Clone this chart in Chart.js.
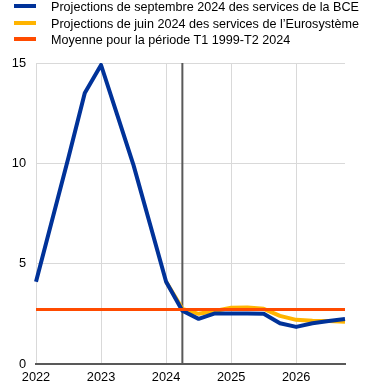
<!DOCTYPE html>
<html>
<head>
<meta charset="utf-8">
<script src="https://cdn.jsdelivr.net/npm/chart.js@4/dist/chart.umd.min.js"></script>
<style>
  html, body { margin: 0; padding: 0; background: #fff; }
  #wrap { position: relative; width: 373px; height: 389px; }
  #c { position: absolute; left: 0; top: 0; }
  #legend { position: absolute; left: 0; top: 0; font-family: "Liberation Sans", Arial, sans-serif; font-size: 12.6px; color: #000; }
  .row { position: absolute; left: 0; white-space: nowrap; height: 16px; }
  .sw { position: absolute; left: 14px; width: 22px; height: 4px; }
  .tx { position: absolute; left: 51px; top: 0; line-height: 14px; }
</style>
</head>
<body>
<div id="wrap">
  <canvas id="c" width="373" height="389"></canvas>
  <div id="legend"></div>
</div>
<script>
// ---- data ----
const quarters = [
  "2022Q1","2022Q2","2022Q3","2022Q4",
  "2023Q1","2023Q2","2023Q3","2023Q4",
  "2024Q1","2024Q2","2024Q3","2024Q4",
  "2025Q1","2025Q2","2025Q3","2025Q4",
  "2026Q1","2026Q2","2026Q3","2026Q4"
];
const seriesNames = [
  "Projections de septembre 2024 des services de la BCE",
  "Projections de juin 2024 des services de l\u2019Eurosyst\u00e8me",
  "Moyenne pour la p\u00e9riode T1 1999-T2 2024"
];
const septProjection = [4.1, 7.2, 10.3, 13.5, 14.9, 12.4, 9.9, 7.0, 4.1, 2.65, 2.25, 2.52, 2.52, 2.52, 2.5, 2.03, 1.85, 2.03, 2.14, 2.24];
const juneProjection = [null, null, null, null, null, null, null, null, 4.1, 2.75, 2.5, 2.64, 2.8, 2.82, 2.75, 2.4, 2.2, 2.15, 2.14, 2.11];
const longTermAverage = [2.72, 2.72, 2.72, 2.72, 2.72, 2.72, 2.72, 2.72, 2.72, 2.72, 2.72, 2.72, 2.72, 2.72, 2.72, 2.72, 2.72, 2.72, 2.72, 2.72];
const cutoffQuarter = "2024Q2";
const yTicks = [0, 5, 10, 15];

const colors = ["#003299", "#ffb400", "#ff4b00"];

// ---- legend (HTML) ----
const legend = document.getElementById('legend');
const rowTops = [0, 16.6, 33.2];
seriesNames.forEach((name, i) => {
  const row = document.createElement('div');
  row.className = 'row';
  row.style.top = rowTops[i] + 'px';
  const sw = document.createElement('div');
  sw.className = 'sw';
  sw.style.background = colors[i];
  sw.style.top = '4px';
  const tx = document.createElement('div');
  tx.className = 'tx';
  tx.textContent = name;
  row.appendChild(sw);
  row.appendChild(tx);
  legend.appendChild(row);
});

// ---- chart ----
const font = { family: "'Liberation Sans', Arial, sans-serif", size: 12.8 };
new Chart(document.getElementById('c'), {
  type: 'line',
  data: {
    labels: quarters,
    datasets: [
      { label: seriesNames[2], data: longTermAverage, borderColor: colors[2], borderWidth: 3, pointRadius: 0, order: 0 },
      { label: seriesNames[0], data: septProjection, borderColor: colors[0], borderWidth: 4, pointRadius: 0, order: 1 },
      { label: seriesNames[1], data: juneProjection, borderColor: colors[1], borderWidth: 4, pointRadius: 0, order: 2, spanGaps: false },
      { label: 'cutoff', data: [{ x: cutoffQuarter, y: yTicks[0] }, { x: cutoffQuarter, y: yTicks[yTicks.length - 1] }],
        borderColor: '#595959', borderWidth: 2, pointRadius: 0, order: 3 }
    ]
  },
  options: {
    responsive: false,
    animation: false,
    devicePixelRatio: 1,
    layout: { padding: { top: 63, right: 28, left: 0, bottom: 0 } },
    plugins: { legend: { display: false }, tooltip: { enabled: false } },
    elements: { line: { tension: 0, borderCapStyle: 'butt', borderJoinStyle: 'round' } },
    scales: {
      x: {
        type: 'category',
        offset: false,
        grid: {
          drawTicks: false,
          color: (ctx) => (ctx.index % 4 === 0 ? '#d9d9d9' : 'rgba(0,0,0,0)'),
          lineWidth: 1
        },
        border: { display: true, color: '#595959', width: 2 },
        ticks: {
          autoSkip: false,
          maxRotation: 0,
          padding: 6,
          color: '#000',
          font: font,
          callback: function (v, i) { const q = quarters[i]; return q.endsWith('Q1') ? q.slice(0, 4) : ''; }
        },
        afterFit: (s) => { s.height = 25; }
      },
      y: {
        min: yTicks[0],
        max: yTicks[yTicks.length - 1],
        afterBuildTicks: (s) => { s.ticks = yTicks.map(v => ({ value: v })); },
        grid: { drawTicks: false, color: (ctx) => (ctx.tick && ctx.tick.value === 0 ? 'rgba(0,0,0,0)' : '#d9d9d9') },
        border: { display: false },
        ticks: { padding: 10, color: '#000', font: font },
        afterFit: (s) => { s.width = 36; }
      }
    }
  }
});
</script>
</body>
</html>
